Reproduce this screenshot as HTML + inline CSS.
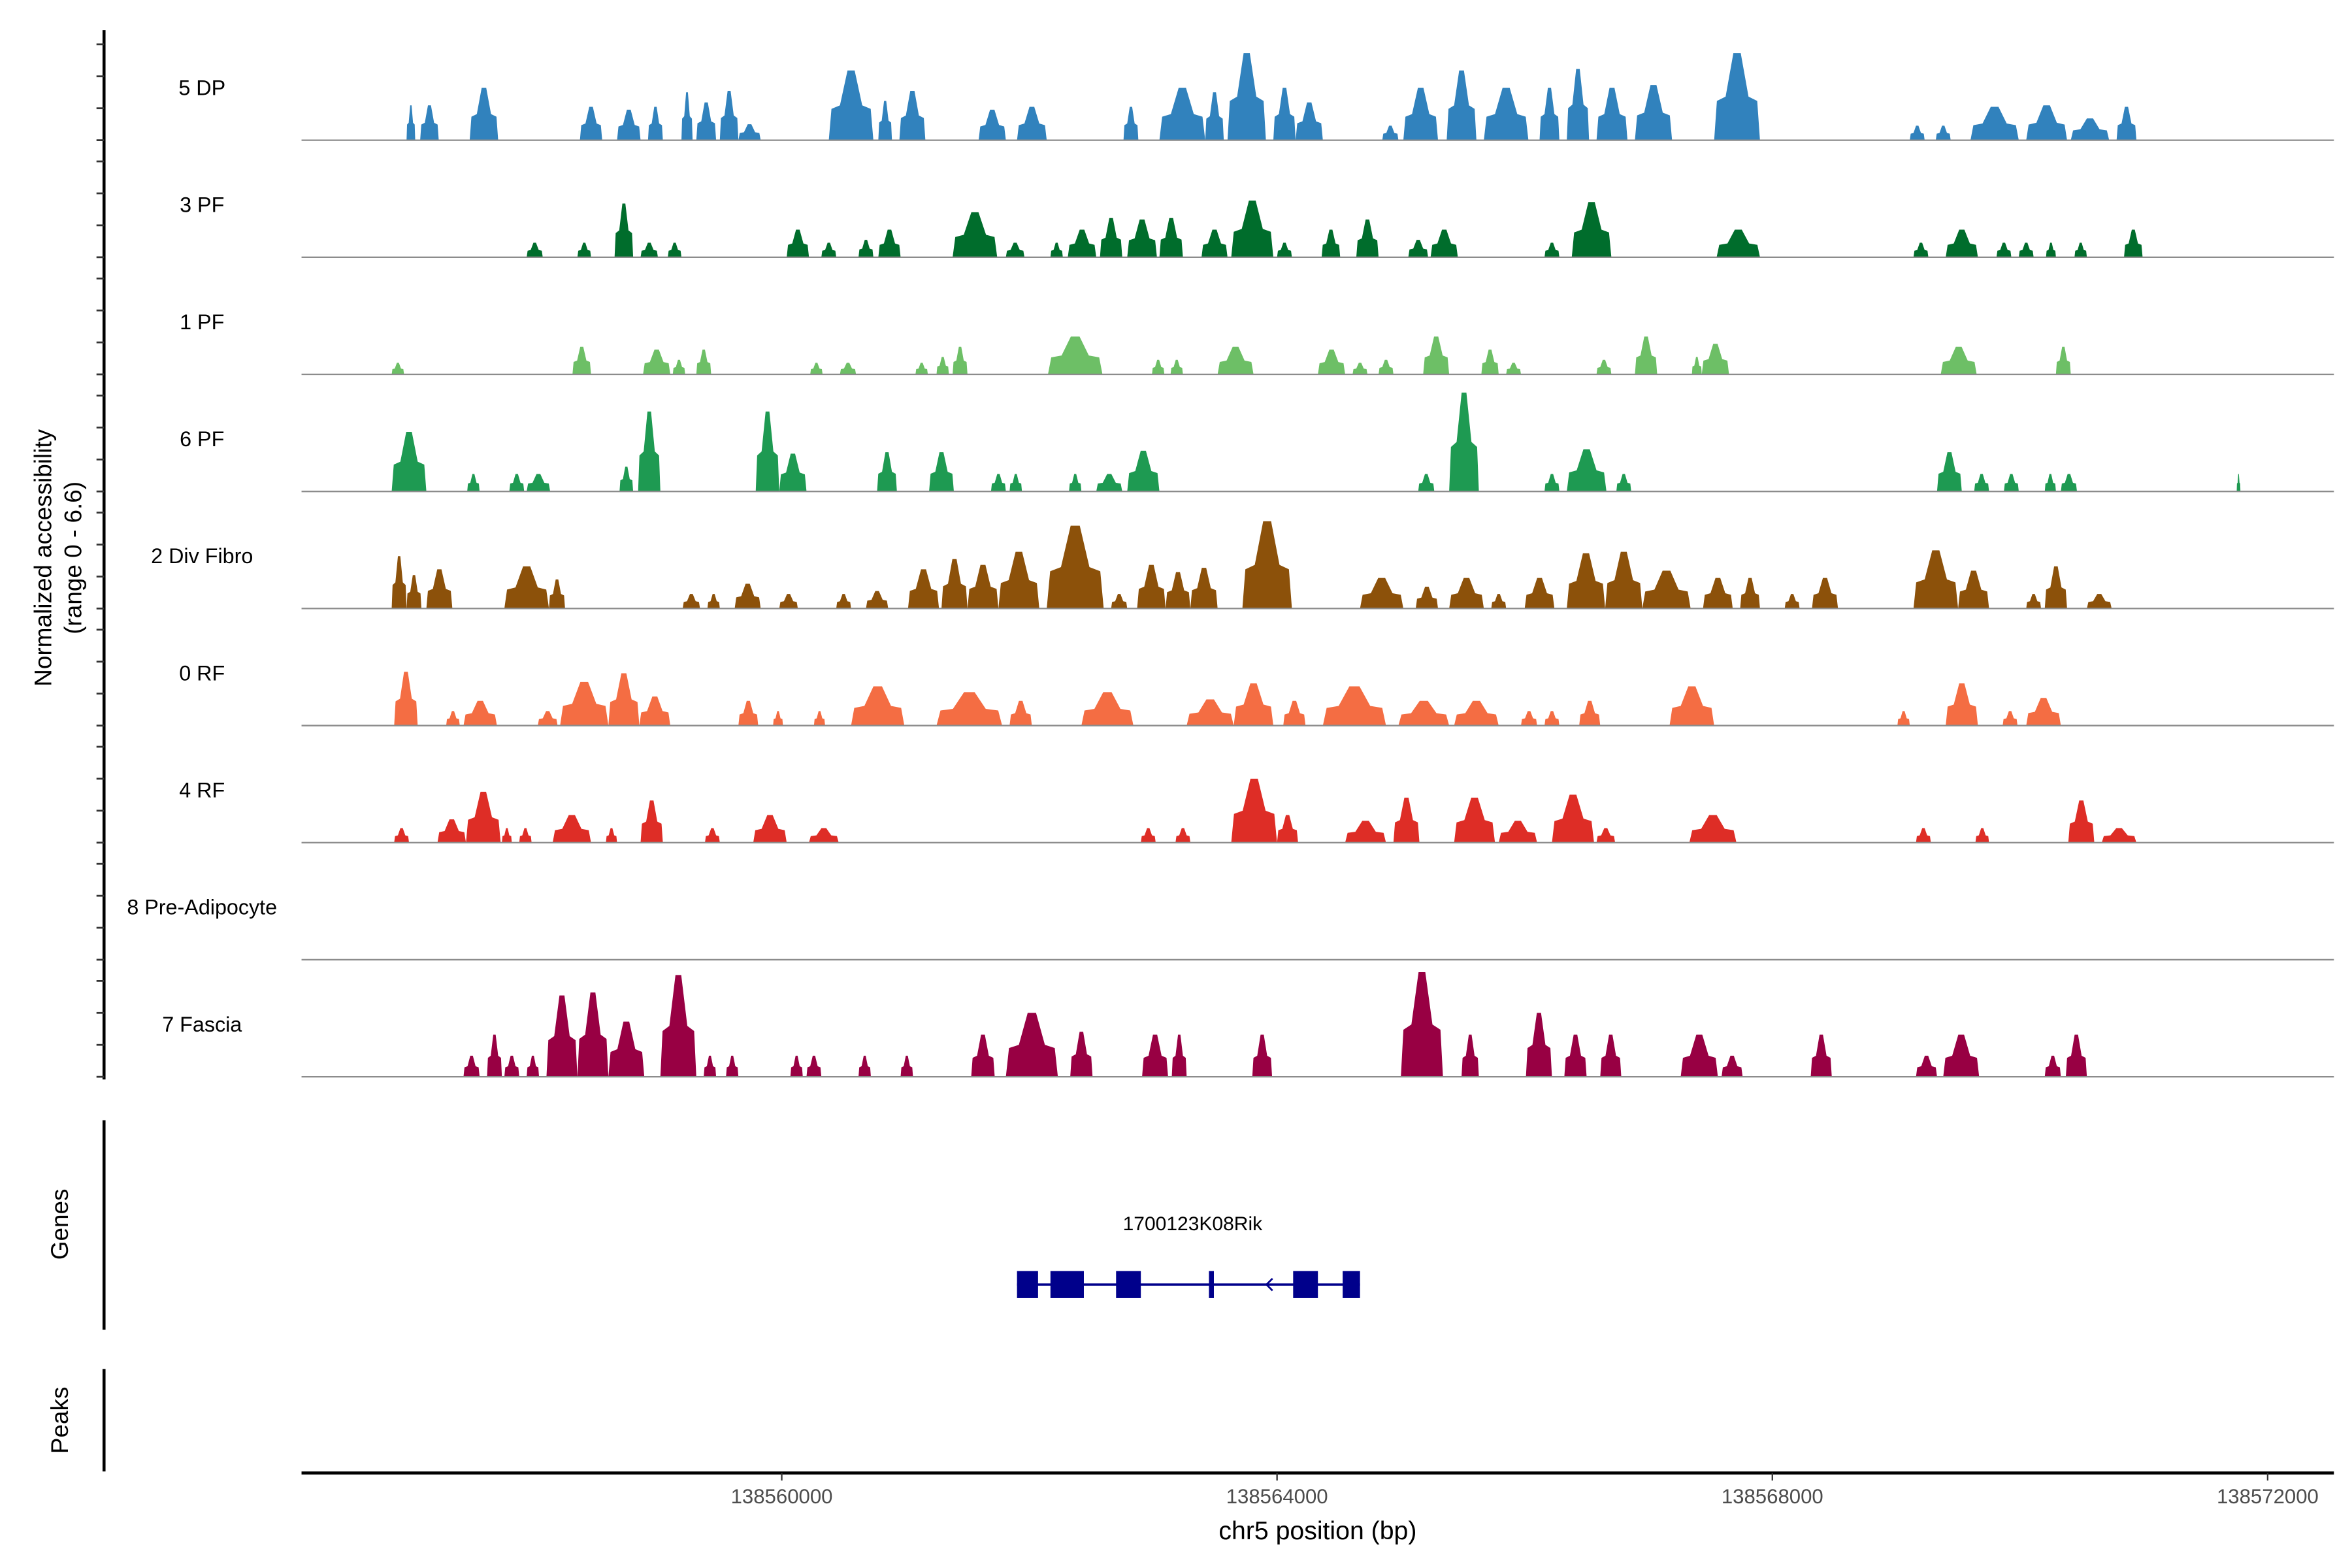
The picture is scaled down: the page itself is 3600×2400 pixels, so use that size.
<!DOCTYPE html>
<html><head><meta charset="utf-8">
<style>
html,body{margin:0;padding:0;background:#fff;}
svg{display:block;}
text{font-family:"Liberation Sans",Arial,sans-serif;}
</style></head>
<body>
<svg id="chart" width="3600" height="2400" viewBox="0 0 1560 1040" xmlns="http://www.w3.org/2000/svg">
  <g id="tracks"></g>
  <g id="yaxis"></g>
  <text transform="translate(34,370) rotate(-90)" text-anchor="middle" font-size="16">Normalized accessibility</text>
  <text transform="translate(54,370) rotate(-90)" text-anchor="middle" font-size="16">(range 0 - 6.6)</text>
  <line x1="69" y1="743" x2="69" y2="882" stroke="#000" stroke-width="2"/>
  <text transform="translate(45,812) rotate(-90)" text-anchor="middle" font-size="16">Genes</text>
  <line x1="69" y1="908" x2="69" y2="976" stroke="#000" stroke-width="2"/>
  <text transform="translate(45,942) rotate(-90)" text-anchor="middle" font-size="16">Peaks</text>
  <g id="genes"></g>
  <g id="xaxis"></g>
  <text x="874" y="1021" text-anchor="middle" font-size="17">chr5 position (bp)</text>
</svg>
<script>
// positions in kb relative to 138550000; heights in normalized accessibility
const trackNames = ["5 DP","3 PF","1 PF","6 PF","2 Div Fibro","0 RF","4 RF","8 Pre-Adipocyte","7 Fascia"];
const trackColors = ["#3182bd","#006d2c","#6dbf66","#1e9a52","#8c510a","#f46d43","#de2d26","#7a0177","#980043"];
const peaks5DP = [[6.97,7.04,2.4],[7.08,7.23,2.4],[7.48,7.71,3.6],[8.37,8.55,2.3],[8.67,8.86,2.1],[8.92,9.04,2.3],[9.19,9.28,3.3],[9.31,9.47,2.6],[9.50,9.65,3.4],[9.65,9.83,1.1],[10.38,10.74,4.8],[10.78,10.89,2.7],[10.95,11.16,3.4],[11.59,11.81,2.1],[11.90,12.14,2.3],[12.76,12.88,2.3],[13.05,13.42,3.6],[13.42,13.57,3.3],[13.60,13.91,6.0],[13.97,14.15,3.6],[14.15,14.37,2.6],[14.85,14.98,1.0],[15.02,15.30,3.6],[15.37,15.61,4.8],[15.67,16.03,3.6],[16.12,16.28,3.6],[16.34,16.52,4.9],[16.58,16.83,3.6],[16.89,17.19,3.8],[17.53,17.90,6.0],[19.11,19.23,1.0],[19.32,19.44,1.0],[19.60,19.99,2.3],[20.05,20.38,2.4],[20.41,20.72,1.5],[20.78,20.94,2.3]];
const peaks3PF = [[7.94,8.07,1.0],[8.35,8.46,1.0],[8.65,8.80,3.7],[8.86,9.00,1.0],[9.08,9.19,1.0],[10.04,10.22,1.9],[10.32,10.44,1.0],[10.62,10.74,1.2],[10.78,10.96,1.9],[11.38,11.74,3.1],[11.81,11.96,1.0],[12.17,12.27,1.0],[12.31,12.54,1.9],[12.57,12.75,2.7],[12.79,13.03,2.6],[13.05,13.24,2.7],[13.39,13.60,1.9],[13.63,13.97,3.9],[14.00,14.12,1.0],[14.36,14.51,1.9],[14.64,14.82,2.6],[15.06,15.22,1.2],[15.24,15.46,1.9],[16.16,16.28,1.0],[16.38,16.70,3.8],[17.55,17.90,1.9],[19.14,19.26,1.0],[19.40,19.66,1.9],[19.81,19.93,1.0],[19.99,20.11,1.0],[20.21,20.29,1.0],[20.44,20.54,1.0],[20.84,20.99,1.9]];
const peaks1PF = [[6.85,6.95,0.8],[8.31,8.46,1.9],[8.88,9.10,1.7],[9.12,9.22,1.0],[9.31,9.43,1.7],[10.23,10.33,0.8],[10.47,10.60,0.8],[11.08,11.18,0.8],[11.25,11.35,1.2],[11.38,11.50,1.9],[12.15,12.59,2.6],[12.99,13.09,1.0],[13.14,13.24,1.0],[13.52,13.81,1.9],[14.33,14.55,1.7],[14.61,14.73,0.8],[14.82,14.94,1.0],[15.18,15.39,2.6],[15.65,15.79,1.7],[15.85,15.97,0.8],[16.58,16.70,1.0],[16.89,17.07,2.6],[17.35,17.43,1.2],[17.43,17.65,2.1],[19.36,19.65,1.9],[20.29,20.41,1.9]];
const peaks6PF = [[6.85,7.13,4.1],[7.46,7.56,1.2],[7.80,7.92,1.2],[7.94,8.13,1.2],[8.69,8.80,1.7],[8.84,9.02,5.5],[9.79,9.98,5.5],[9.98,10.20,2.6],[10.77,10.93,2.7],[11.19,11.39,2.7],[11.69,11.81,1.2],[11.84,11.94,1.2],[12.32,12.42,1.2],[12.54,12.75,1.2],[12.79,13.05,2.8],[15.14,15.27,1.2],[15.39,15.63,6.8],[16.16,16.28,1.2],[16.34,16.66,2.9],[16.74,16.86,1.2],[19.33,19.53,2.7],[19.63,19.75,1.2],[19.87,19.99,1.2],[20.20,20.29,1.2],[20.33,20.46,1.2],[21.75,21.78,1.2]];
const peaksDivFibro = [[6.85,6.97,3.6],[6.97,7.09,2.3],[7.13,7.34,2.7],[7.76,8.12,2.9],[8.12,8.25,2.0],[9.20,9.34,1.0],[9.40,9.50,1.0],[9.62,9.83,1.7],[9.98,10.13,1.0],[10.44,10.56,1.0],[10.68,10.86,1.2],[11.02,11.27,2.7],[11.29,11.50,3.4],[11.50,11.75,3.0],[11.75,12.08,3.9],[12.14,12.60,5.7],[12.66,12.79,1.0],[12.87,13.10,3.0],[13.10,13.30,2.5],[13.30,13.52,2.8],[13.72,14.12,6.0],[14.67,15.02,2.1],[15.12,15.30,1.5],[15.39,15.67,2.1],[15.73,15.85,1.0],[16.00,16.24,2.1],[16.34,16.65,3.8],[16.65,16.95,3.9],[16.95,17.34,2.6],[17.44,17.68,2.1],[17.74,17.90,2.1],[18.10,18.22,1.0],[18.32,18.53,2.1],[19.14,19.50,4.0],[19.50,19.75,2.6],[20.05,20.17,1.0],[20.20,20.38,2.9],[20.54,20.74,1.0]];
const peaks0RF = [[6.87,7.06,3.7],[7.29,7.40,1.0],[7.43,7.70,1.7],[8.03,8.19,1.0],[8.21,8.60,3.0],[8.60,8.85,3.6],[8.85,9.10,2.0],[9.65,9.81,1.7],[9.93,10.01,1.0],[10.26,10.35,1.0],[10.56,10.99,2.7],[11.25,11.78,2.3],[11.84,12.02,1.7],[12.42,12.84,2.3],[13.27,13.65,1.8],[13.65,13.97,2.9],[14.05,14.23,1.7],[14.37,14.88,2.7],[14.98,15.39,1.7],[15.43,15.79,1.7],[15.97,16.10,1.0],[16.16,16.28,1.0],[16.44,16.61,1.7],[17.17,17.53,2.7],[19.01,19.11,1.0],[19.40,19.66,2.9],[19.86,19.98,1.0],[20.05,20.33,1.9]];
const peaks4RF = [[6.87,6.99,1.0],[7.22,7.45,1.6],[7.45,7.73,3.5],[7.74,7.82,1.0],[7.88,7.98,1.0],[8.15,8.46,1.9],[8.58,8.67,1.0],[8.86,9.04,2.9],[9.38,9.50,1.0],[9.77,10.04,1.9],[10.22,10.46,1.0],[12.90,13.02,1.0],[13.18,13.30,1.0],[13.63,14.00,4.4],[14.00,14.17,1.9],[14.55,14.88,1.5],[14.94,15.15,3.1],[15.43,15.76,3.1],[15.79,16.10,1.5],[16.22,16.56,3.3],[16.58,16.73,1.0],[17.33,17.71,1.9],[19.16,19.28,1.0],[19.64,19.75,1.0],[20.39,20.60,2.9],[20.66,20.94,1.0]];
const peaksPreAdipocyte = [];
const peaksFascia = [[7.43,7.56,1.45],[7.62,7.74,2.9],[7.76,7.88,1.45],[7.94,8.04,1.45],[8.10,8.35,5.6],[8.35,8.60,5.8],[8.60,8.89,3.8],[9.02,9.31,7.0],[9.37,9.47,1.45],[9.55,9.65,1.45],[10.07,10.17,1.45],[10.20,10.32,1.45],[10.62,10.72,1.45],[10.96,11.06,1.45],[11.53,11.72,2.9],[11.81,12.23,4.4],[12.33,12.51,3.1],[12.91,13.12,2.9],[13.15,13.27,2.9],[13.80,13.96,2.9],[15.00,15.34,7.2],[15.49,15.63,2.9],[16.01,16.22,4.4],[16.32,16.50,2.9],[16.61,16.78,2.9],[17.26,17.56,2.9],[17.59,17.76,1.45],[18.31,18.48,2.9],[19.16,19.33,1.45],[19.38,19.67,2.9],[20.20,20.33,1.45],[20.37,20.54,2.9]];
const allPeaks = [peaks5DP,peaks3PF,peaks1PF,peaks6PF,peaksDivFibro,peaks0RF,peaks4RF,peaksPreAdipocyte,peaksFascia];
const xTicks = [138560000,138564000,138568000,138572000];
const geneName = "1700123K08Rik";
const geneStart = 138561900, geneEnd = 138564670;
const geneExons = [[138561900,138562070],[138562170,138562440],[138562700,138562900],[138563450,138563490],[138564130,138564330],[138564530,138564670]];

const NS = "http://www.w3.org/2000/svg";
const X0 = 200, X1 = 1548, D0 = 138556122, D1 = 138572535;
function xScale(bp){ return X0 + (bp - D0) / (D1 - D0) * (X1 - X0); }
function kbX(kb){ return xScale(138550000 + kb*1000); }
const PX_PER_UNIT = 9.64;
function yScale(v, base){ return base - v*PX_PER_UNIT; }
function mk(tag, attrs, parent){ const e=document.createElementNS(NS,tag); for(const k in attrs) e.setAttribute(k,attrs[k]); parent.appendChild(e); return e; }

const tracks = document.getElementById('tracks');
const yaxis = document.getElementById('yaxis');
const firstBase = 93, step = 77.65;
const yl = mk('line',{x1:69,y1:20,x2:69,y2:716,stroke:'#000','stroke-width':2},yaxis);


trackNames.forEach((name,i)=>{
  const base = firstBase + i*step;
  const g = mk('g',{},tracks);
  
  
  const lab = mk('text',{x:134,y:base-30,'text-anchor':'middle','font-size':14},g);
  lab.textContent = name;
  
  
  allPeaks[i].forEach(p=>{
    const s=kbX(p[0]), e=kbX(p[1]), w=e-s, m=(s+e)/2;
    const pts=[[s,base],[s+0.06*w,yScale(p[2]*0.45,base)],[s+0.25*w,yScale(p[2]*0.5,base)],[m-0.08*w,yScale(p[2],base)],[m+0.08*w,yScale(p[2],base)],[e-0.25*w,yScale(p[2]*0.5,base)],[e-0.06*w,yScale(p[2]*0.45,base)],[e,base]];
    const poly = mk('polygon',{points:pts.map(q=>q[0].toFixed(2)+','+q[1].toFixed(2)).join(' '),fill:trackColors[i]},g);
    
    
  });
  const bl = mk('line',{x1:X0,y1:base,x2:X1,y2:base,stroke:'#8c8c8c','stroke-width':1},g);
  
  
  for(let k=0;k<4;k++){
    const ty = base - k*21.2;
    const t = mk('line',{x1:64,y1:ty,x2:69,y2:ty,stroke:'#333','stroke-width':1.2},yaxis);
    
    
  }
});

// gene
const gg = document.getElementById('genes');
const gl = mk('text',{x:791,y:816,'text-anchor':'middle','font-size':13},gg);
gl.textContent = geneName;


const gline = mk('line',{x1:xScale(geneStart),y1:852,x2:xScale(geneEnd),y2:852,stroke:'#00008b','stroke-width':1.5},gg);


geneExons.forEach(ex=>{
  const r = mk('rect',{x:xScale(ex[0]),y:843,width:Math.max(2,xScale(ex[1])-xScale(ex[0])),height:18,fill:'#00008b'},gg);
  
  
});
const arr = mk('path',{d:'M844,848 L840,852 L844,856',fill:'none',stroke:'#00008b','stroke-width':1.2},gg);



// x axis
const xa = document.getElementById('xaxis');
const xl = mk('line',{x1:X0,y1:977,x2:X1,y2:977,stroke:'#000','stroke-width':2},xa);


xTicks.forEach(t=>{
  const x = xScale(t);
  const tk = mk('line',{x1:x,y1:977,x2:x,y2:982,stroke:'#333','stroke-width':1},xa);
  
  
  const tl = mk('text',{x:x,y:997,'text-anchor':'middle','font-size':13.5,fill:'#4d4d4d'},xa);
  tl.textContent = String(t);
  
  
});
</script>
</body></html>
